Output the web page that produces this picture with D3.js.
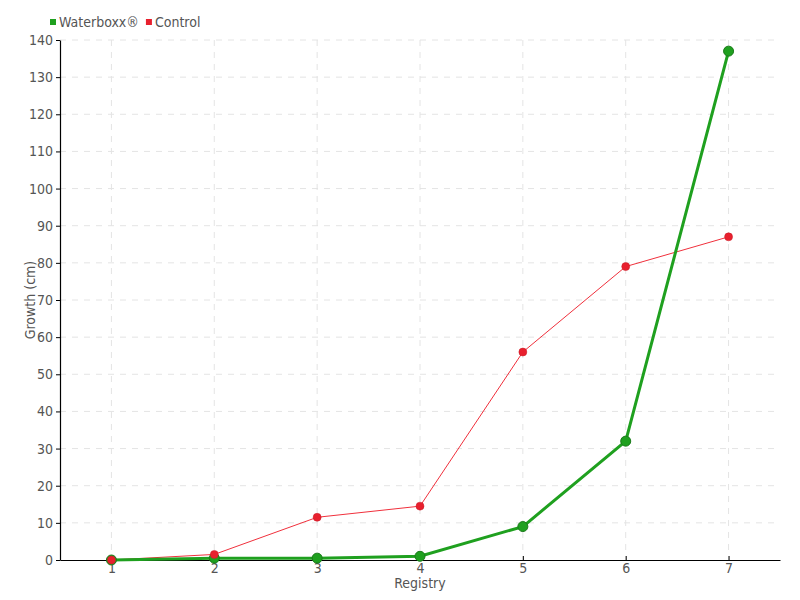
<!DOCTYPE html>
<html>
<head>
<meta charset="utf-8">
<title>Growth</title>
<script src="https://d3js.org/d3.v7.min.js"></script>
<style>
  body { margin: 0; background: #fff; }
  svg text { font-family: "DejaVu Sans Condensed", "Liberation Sans Narrow", sans-serif; fill: #555; }
</style>
</head>
<body>
<div id="chart"></div>
<script>
var registry = [1, 2, 3, 4, 5, 6, 7];
var waterboxx = [0, 0.5, 0.5, 1, 9, 32, 137];
var control = [0, 1.5, 11.5, 14.5, 56, 79, 87];
var yTicks = d3.range(0, 141, 10);

var width = 800, height = 600;
var margin = {top: 40, right: 20, bottom: 40, left: 60};

var svg = d3.select("#chart").append("svg")
    .attr("width", width)
    .attr("height", height);

var x = d3.scalePoint()
    .domain(registry)
    .range([margin.left, width - margin.right])
    .padding(0.5);

var y = d3.scaleLinear()
    .domain([0, 140])
    .range([height - margin.bottom, margin.top]);

// grid
svg.append("g").selectAll("line")
    .data(yTicks.slice(1))
    .enter().append("line")
    .attr("x1", margin.left).attr("x2", width - margin.right)
    .attr("y1", d => y(d)).attr("y2", d => y(d))
    .attr("stroke", "#e4e4e4").attr("stroke-dasharray", "6,6");

svg.append("g").selectAll("line")
    .data(registry)
    .enter().append("line")
    .attr("x1", d => x(d)).attr("x2", d => x(d))
    .attr("y1", margin.top).attr("y2", height - margin.bottom)
    .attr("stroke", "#e4e4e4").attr("stroke-dasharray", "6,6");

// axes
var gX = svg.append("g")
    .attr("transform", "translate(0," + (height - margin.bottom) + ")")
    .call(d3.axisBottom(x).tickSize(-4).tickPadding(1).tickSizeOuter(0));
gX.selectAll("text").attr("dy", "0.85em");

var gY = svg.append("g")
    .attr("transform", "translate(" + margin.left + ",0)")
    .call(d3.axisLeft(y).tickValues(yTicks).tickSize(4).tickPadding(3).tickSizeOuter(0));

[gX, gY].forEach(g => {
  g.select(".domain").attr("stroke", "#000").attr("stroke-width", 1.2);
  g.selectAll(".tick line").attr("stroke", "#000");
  g.selectAll("text").style("font-size", "14px").attr("fill", "#555");
});

// axis titles
svg.append("text")
    .attr("x", (margin.left + width - margin.right) / 2)
    .attr("y", 588)
    .attr("text-anchor", "middle")
    .style("font-size", "14px")
    .text("Registry");

svg.append("text")
    .attr("transform", "translate(35," + ((margin.top + height - margin.bottom) / 2) + ") rotate(-90)")
    .attr("text-anchor", "middle")
    .style("font-size", "14px")
    .text("Growth (cm)");

// lines
var line = d3.line()
    .x((d, i) => x(registry[i]))
    .y(d => y(d));

svg.append("path")
    .datum(control)
    .attr("fill", "none")
    .attr("stroke", "#f0303c")
    .attr("stroke-width", 1)
    .attr("d", line);

svg.append("path")
    .datum(waterboxx)
    .attr("fill", "none")
    .attr("stroke", "#1fa01f")
    .attr("stroke-width", 3)
    .attr("d", line);

svg.append("g").selectAll("circle")
    .data(waterboxx)
    .enter().append("circle")
    .attr("cx", (d, i) => x(registry[i]))
    .attr("cy", d => y(d))
    .attr("r", 5)
    .attr("fill", "#1fa01f")
    .attr("stroke", "#1a7a1a")
    .attr("stroke-width", 1);

svg.append("g").selectAll("circle")
    .data(control)
    .enter().append("circle")
    .attr("cx", (d, i) => x(registry[i]))
    .attr("cy", d => y(d))
    .attr("r", 4)
    .attr("fill", "#e8202e")
    .attr("stroke", "#c81a26")
    .attr("stroke-width", 0.5);

// legend
var legend = [
  {name: "Waterboxx\u00ae", color: "#1fa01f"},
  {name: "Control", color: "#e8202e"}
];
var lx = 50;
legend.forEach(function(l) {
  svg.append("rect")
      .attr("x", lx).attr("y", 19)
      .attr("width", 6).attr("height", 6)
      .attr("fill", l.color);
  var t = svg.append("text")
      .attr("x", lx + 9).attr("y", 27)
      .style("font-size", "14px")
      .text(l.name);
  lx += 9 + t.node().getComputedTextLength() + 7;
});
</script>
</body>
</html>
